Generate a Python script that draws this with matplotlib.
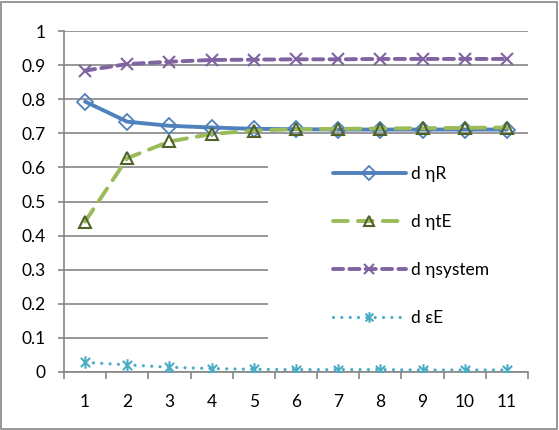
import matplotlib
matplotlib.use("Agg")
import matplotlib.pyplot as plt
from matplotlib.path import Path
from matplotlib.patches import Rectangle
from matplotlib.ticker import FixedLocator

plt.rcParams['font.family'] = ['Lato', 'DejaVu Sans']

steps = list(range(1, 12))
eta_R = [0.793, 0.734, 0.722, 0.717, 0.713, 0.712, 0.711, 0.711, 0.711, 0.711, 0.711]
eta_tE = [0.441, 0.627, 0.676, 0.698, 0.708, 0.712, 0.713, 0.714, 0.715, 0.716, 0.717]
eta_system = [0.884, 0.903, 0.910, 0.915, 0.916, 0.917, 0.917, 0.918, 0.918, 0.918, 0.918]
eps_E = [0.028, 0.021, 0.014, 0.010, 0.008, 0.007, 0.007, 0.007, 0.006, 0.006, 0.006]
y_ticks = [0, 0.1, 0.2, 0.3, 0.4, 0.5, 0.6, 0.7, 0.8, 0.9, 1]
labels = ["d \u03b7R", "d \u03b7tE", "d \u03b7system", "d \u03b5E"]

# asterisk marker: an X with a vertical stroke through it
star = Path([(-1, -1), (1, 1), (-1, 1), (1, -1), (0, -1.35), (0, 1.35)],
            [Path.MOVETO, Path.LINETO, Path.MOVETO, Path.LINETO, Path.MOVETO, Path.LINETO])

fig = plt.figure(figsize=(5.59, 4.30), dpi=100)
ax = fig.add_axes([64/559, 1-372/430, (528-64)/559, (372-31)/430])
ax.set_axisbelow(True)

lw = 2.8
ax.plot(steps, eta_R, color='#4F81BD', lw=lw, solid_capstyle='round',
        marker='D', ms=7.8, mfc='none', mec='#4F81BD', mew=1.3, label=labels[0], zorder=3)
ax.plot(steps, eta_tE, color='#9BBB59', lw=lw, dashes=(3.8, 2.6), dash_capstyle='round',
        marker='^', ms=8.5, mfc='none', mec='#4F6228', mew=1.5, label=labels[1], zorder=4)
ax.plot(steps, eta_system, color='#8064A2', lw=lw, dashes=(2.6, 1.6), dash_capstyle='round',
        marker='x', ms=9, mec='#8064A2', mew=1.5, label=labels[2], zorder=3)
ax.plot(steps, eps_E, color='#4BACC6', lw=2.3, dashes=(0.01, 2.6), dash_capstyle='round',
        marker=star, ms=9, mfc='none', mec='#4BACC6', mew=1.5, label=labels[3], zorder=3)

ax.set_xlim(0.5, 11.5)
ax.set_ylim(0, 1)
ax.set_yticks(y_ticks)
ax.set_yticklabels([f"{v:g}" for v in y_ticks])
ax.set_xticks(steps)
ax.set_xticklabels([str(s) for s in steps])
ax.xaxis.set_minor_locator(FixedLocator([s + 0.5 for s in range(0, 12)]))

ax.grid(axis='y', color='#868686', lw=1.2)
for side in ('top', 'right'):
    ax.spines[side].set_visible(False)
for side in ('left', 'bottom'):
    ax.spines[side].set_color('#868686')
    ax.spines[side].set_linewidth(1.2)

ax.tick_params(axis='y', length=4, width=1.2, color='#868686', pad=9, labelsize=12.5)
ax.tick_params(axis='x', which='major', length=0, pad=16, labelsize=12.5)
ax.tick_params(axis='x', which='minor', length=5, width=1.2, color='#868686')

# white legend panel hiding the gridlines behind it
ax.add_patch(Rectangle((5.33, 0.05), 6.3, 0.615, facecolor='white', edgecolor='none',
                       zorder=1, clip_on=False))

leg = ax.legend(loc='upper left', bbox_to_anchor=(317/559, 1-150/430), bbox_transform=fig.transFigure,
                frameon=False, numpoints=1, handlelength=4.2, handletextpad=0.3,
                labelspacing=1.85, fontsize=12.5, markerscale=0.85)

fig.add_artist(Rectangle((1/559, 1/430), 556/559, 427/430, transform=fig.transFigure,
                         facecolor='none', edgecolor='#868686', lw=1.2))

fig.savefig('out.png', dpi=100)
